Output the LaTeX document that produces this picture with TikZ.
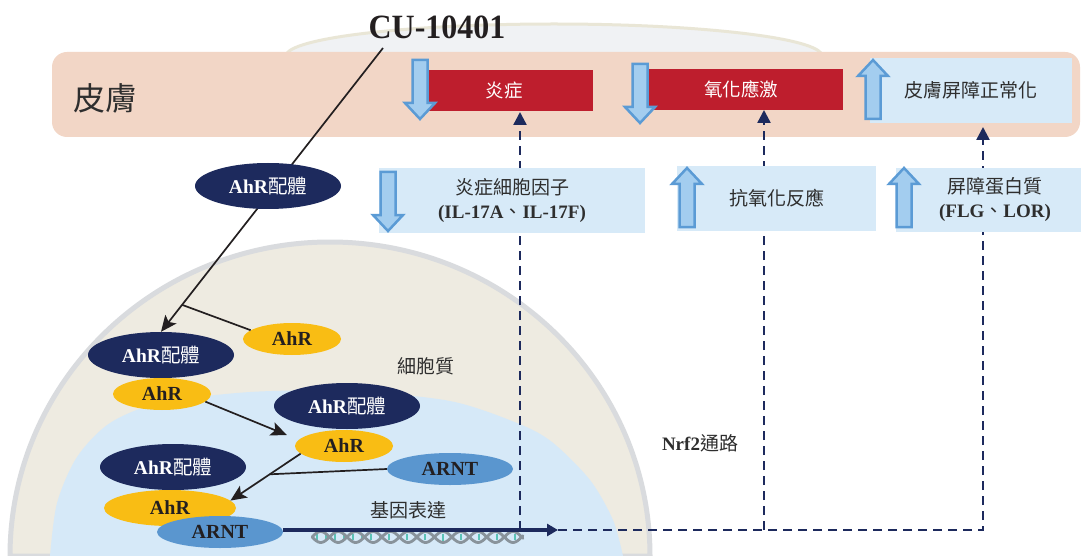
\documentclass[tikz,border=0pt]{standalone}
\usepackage{fontspec}
\setmainfont{Liberation Serif}
\newfontfamily\cjk{Noto Sans CJK TC}
\usetikzlibrary{arrows.meta,shapes.geometric,calc}

\pgfdeclarelayer{back}
\pgfdeclarelayer{mid}
\pgfsetlayers{back,mid,main}

\definecolor{navy}{HTML}{1D2A5D}
\definecolor{gold}{HTML}{F9BD14}
\definecolor{arntblue}{HTML}{5A96CF}
\definecolor{inflred}{HTML}{BE1E2D}
\definecolor{paleblue}{HTML}{D7EAF8}
\definecolor{arrowfill}{HTML}{A3CDEF}
\definecolor{arrowedge}{HTML}{5B9BD5}
\definecolor{skinband}{HTML}{F2D6C6}
\definecolor{cellcream}{HTML}{EEEBE1}
\definecolor{cellrim}{HTML}{D9DBDE}
\definecolor{nucleus}{HTML}{D6E9F8}
\definecolor{lensfill}{HTML}{F0F2F4}
\definecolor{lensrim}{HTML}{E9E6D6}
\definecolor{ink}{HTML}{231F20}
\definecolor{softink}{HTML}{2E2E2E}
\definecolor{helix}{HTML}{89939B}
\definecolor{rung}{HTML}{5CC2B6}

\newcommand\zh[1]{{\cjk\mdseries #1}}
\newcommand\fs[1]{\fontsize{#1}{#1}\selectfont}

\tikzset{
  ligand/.style={ellipse, fill=navy, minimum width=146pt, minimum height=46pt,
    inner sep=0pt, text=white, font=\fs{19.5}\bfseries},
  receptor/.style={ellipse, fill=gold, minimum width=98pt, minimum height=32pt,
    inner sep=0pt, text=ink, font=\fs{20}\bfseries},
  partner/.style={ellipse, fill=arntblue, minimum width=126pt, minimum height=32pt,
    inner sep=0pt, text=ink, font=\fs{20}\bfseries},
  effect/.style={rectangle, fill=inflred, text=white, inner sep=0pt,
    minimum height=41pt, font=\cjk\fs{18.5}},
  outcome/.style={rectangle, fill=paleblue, text=softink, inner sep=0pt,
    minimum height=65pt, align=center, font=\fs{19}},
  label/.style={text=softink, inner sep=0pt, font=\fs{19}},
  flow/.style={ink, line width=1.7pt},
  flowarrow/.style={flow, -{Stealth[length=16pt,width=14pt,inset=3.5pt]}},
  signal/.style={navy, line width=2.4pt, dash pattern=on 9pt off 6pt,
    -{Triangle[length=13pt,width=13pt]}},
  strand/.style={helix, line width=2.8pt, line cap=round},
  rungline/.style={rung, line width=1.4pt},
  pics/fatarrow/.style={code={
    \filldraw[line width=2.5pt, draw=arrowedge, fill=arrowfill, line join=miter]
      (0,0) -- (15,16) -- (7.5,16) -- (7.5,59) -- (-7.5,59) -- (-7.5,16) -- (-15,16) -- cycle;
  }}
}

\begin{document}
\begin{tikzpicture}[x=1pt,y=-1pt]
  \useasboundingbox (0,0) rectangle (1081,556);

  % skin layer, the lens above it and the cell below
  \begin{pgfonlayer}{back}
    \fill[white] (0,0) rectangle (1081,556);
    \filldraw[fill=lensfill, draw=lensrim, line width=3pt]
      (286,56) arc[start angle=180, end angle=360, x radius=268, y radius=32];
    \fill[skinband, rounded corners=15pt] (52,52) rectangle (1080,137);
    \filldraw[fill=cellcream, draw=cellrim, line width=5pt]
      (10,556) arc[start angle=180, end angle=360, x radius=320, y radius=314] -- cycle;
    \fill[nucleus] plot[smooth] coordinates {(50,556) (57,503) (77,457) (110,423)
      (160,403) (250,392) (350,391) (450,401) (517,423) (552,442) (590,480)
      (613,520) (623,556)} -- cycle;
  \end{pgfonlayer}

  \node[text=softink, font=\cjk\fs{32}, inner sep=0pt] (skin) at (105,98) {皮膚};
  \node[font=\fs{34}\bfseries, text=ink, inner sep=0pt, xscale=0.94] (cu) at (437,27) {CU-10401};

  % effects on the skin
  \node[effect, minimum width=178pt] (inflam) at (504,90.5) {炎症};
  \node[effect, minimum width=204pt] (oxid) at (741,89.5) {氧化應激};
  \node[outcome, font=\cjk\fs{19}, minimum width=202pt] (barrierok) at (971,90.5) {皮膚屏障正常化};

  % downstream changes
  \node[outcome, minimum width=266pt] (cyto) at (512,200.5)
    {\zh{炎症細胞因子}\\[5pt]\textbf{(IL-17A\zh{、}IL-17F)}};
  \node[outcome, font=\cjk\fs{19}, minimum width=199pt] (anti) at (776.5,198.5) {抗氧化反應};
  \node[outcome, minimum width=198pt, minimum height=64pt] (prot) at (995,200)
    {\zh{屏障蛋白質}\\[5pt]\textbf{(FLG\zh{、}LOR)}};

  \pic[rotate=180] (dnInflam) at (420,119) {fatarrow};
  \pic[rotate=180] (dnOxid) at (640,123) {fatarrow};
  \pic (upBarrier) at (873,60) {fatarrow};
  \pic[rotate=180] (dnCyto) at (388,231) {fatarrow};
  \pic (upAnti) at (687,168) {fatarrow};
  \pic (upProt) at (904,168) {fatarrow};

  % ligands and receptors
  \node[ligand] (lig1) at (268,186) {AhR\zh{配體}};
  \node[ligand] (lig2) at (161,355) {AhR\zh{配體}};
  \node[ligand] (lig3) at (347,406) {AhR\zh{配體}};
  \node[ligand] (lig4) at (173,467) {AhR\zh{配體}};
  \node[receptor] (rec1) at (292,339) {AhR};
  \node[receptor] (rec2) at (162,394) {AhR};
  \node[receptor] (rec3) at (344,446) {AhR};
  \node[receptor, minimum width=132pt, minimum height=36pt] (rec4) at (170,508) {AhR};
  \node[partner] (arnt1) at (450,469) {ARNT};
  \node[partner] (arnt2) at (220,532) {ARNT};

  \node[label, font=\cjk\fs{19}] (cytoplasm) at (426,366) {細胞質};
  \node[label, font=\cjk\fs{19}] (expr) at (408,510) {基因表達};
  \node[label] (nrf) at (700,443) {\textbf{Nrf2}\zh{通路}};

  % pathway connectors
  \coordinate (c0) at (383,48);
  \coordinate (geneEnd) at (558,530);
  \coordinate (t1) at (520,112);
  \coordinate (t2) at (764,110);
  \coordinate (t3) at (983,127);

  \begin{pgfonlayer}{mid}
    \draw[flowarrow] (c0) -- (lig2.north);
    \draw[signal] (geneEnd) -| (t3);
    \draw[signal] (t1 |- geneEnd) -- (t1);
    \draw[signal] (t2 |- geneEnd) -- (t2);
  \end{pgfonlayer}

  \draw[flow] ($(c0)!0.905!(lig2.north)$) -- (rec1.168);
  \draw[flowarrow] (rec2.-10) -- ($(rec3.west)+(-8,-11)$);
  \draw[flowarrow] (rec3.190) -- (rec4.7);
  \draw[flow] (arnt1.west) -- ($(rec3.190)!0.44!(rec4.7)$);

  % DNA double helix under the expression arrow
  \foreach \k in {317,326,...,520}
    \draw[rungline] (\k,{537+3.5*sin(10.3*(\k-312))}) -- (\k,{537-3.5*sin(10.3*(\k-312))});
  \draw[strand] plot[domain=312:523, samples=140] (\x,{537+5.5*sin(10.3*(\x-312))});
  \draw[strand] plot[domain=312:523, samples=140] (\x,{537-5.5*sin(10.3*(\x-312))});

  \draw[navy, line width=3.5pt, -{Triangle[length=11pt,width=12pt]}]
    (arnt2.east |- geneEnd) -- (geneEnd);
\end{tikzpicture}
\end{document}
